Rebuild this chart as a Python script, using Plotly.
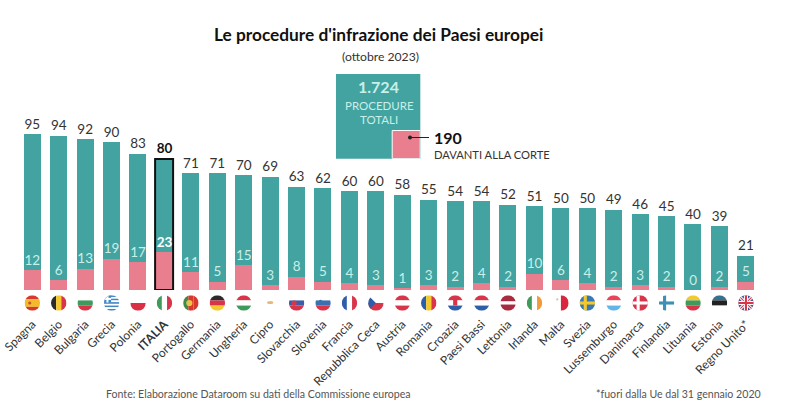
import base64
import math
import plotly.graph_objects as go

countries = ["Spagna", "Belgio", "Bulgaria", "Grecia", "Polonia", "ITALIA", "Portogallo", "Germania", "Ungheria", "Cipro",
             "Slovacchia", "Slovenia", "Francia", "Repubblica Ceca", "Austria", "Romania", "Croazia", "Paesi Bassi",
             "Lettonia", "Irlanda", "Malta", "Svezia", "Lussemburgo", "Danimarca", "Finlandia", "Lituania", "Estonia",
             "Regno Unito*"]
totals = [95, 94, 92, 90, 83, 80, 71, 71, 70, 69, 63, 62, 60, 60, 58, 55, 54, 54, 52, 51, 50, 50, 49, 46, 45, 40, 39, 21]
court = [12, 6, 13, 19, 17, 23, 11, 5, 15, 3, 8, 5, 4, 3, 1, 3, 2, 4, 2, 10, 6, 4, 2, 3, 2, 0, 2, 5]
grand_total = 1724
grand_court = 190
highlight = "ITALIA"

TEAL = "#42a3a0"
PINK = "#e97f8e"
INK = "#333333"
PALE = "#c9efe9"
FONT = "Lato, 'Open Sans', sans-serif"
W, H = 800, 419
X0, STEP = 19.1, 26.43
BASE, PX_PER_UNIT = 290.0, 1.642
LABEL_LIFT = 2


def h(*c, w=None):
    w = w or [1] * len(c)
    t, y, s = sum(w), 0, ""
    for col, k in zip(c, w):
        s += f'<rect x="0" y="{y}" width="30" height="{30 * k / t}" fill="{col}"/>'
        y += 30 * k / t
    return s


def v(*c):
    n = len(c)
    return "".join(f'<rect x="{30 * i / n}" y="0" width="{30 / n}" height="30" fill="{col}"/>' for i, col in enumerate(c))


def nordic(bg, cross):
    return (f'<rect width="30" height="30" fill="{bg}"/><rect x="8" width="6" height="30" fill="{cross}"/>'
            f'<rect y="12" width="30" height="6" fill="{cross}"/>')


def dot(x, y, r, col):
    return f'<circle cx="{x}" cy="{y}" r="{r}" fill="{col}"/>'


greece = h(*["#3f86c4", "#ffffff"] * 4 + ["#3f86c4"]) + '<rect width="14" height="14" fill="#3f86c4"/><rect x="5" width="4" height="14" fill="#fff"/><rect y="5" width="14" height="4" fill="#fff"/>'
uk = ('<rect width="30" height="30" fill="#3a4f8f"/><path d="M0 0L30 30M30 0L0 30" stroke="#fff" stroke-width="6"/>'
      '<path d="M0 0L30 30M30 0L0 30" stroke="#d8354a" stroke-width="2"/><rect x="11" width="8" height="30" fill="#fff"/>'
      '<rect y="11" width="30" height="8" fill="#fff"/><rect x="13" width="4" height="30" fill="#d8354a"/><rect y="13" width="30" height="4" fill="#d8354a"/>')
flags = {
    "Spagna": h("#d8392b", "#f4b92d", "#d8392b", w=[1, 2, 1]) + dot(10, 15, 3, "#c0562b"),
    "Belgio": v("#2b2b2b", "#f4c92d", "#d8354a"),
    "Bulgaria": h("#ffffff", "#3f9a5b", "#d8354a"),
    "Grecia": greece,
    "Polonia": h("#ffffff", "#db2f45"),
    "ITALIA": v("#3f9a5b", "#ffffff", "#d8354a"),
    "Portogallo": v("#3f8a4b", "#d8392b", "#d8392b") + dot(12, 15, 6, "#e8c34a"),
    "Germania": h("#2b2b2b", "#d8354a", "#f4c92d"),
    "Ungheria": h("#d8354a", "#ffffff", "#3f9a5b"),
    "Cipro": '<rect width="30" height="30" fill="#ffffff"/><ellipse cx="15" cy="14" rx="6" ry="3" fill="#e8b87a"/>',
    "Slovacchia": h("#ffffff", "#3a5fa8", "#d8354a") + dot(10, 15, 5, "#d8354a"),
    "Slovenia": h("#ffffff", "#3a6fb0", "#d8354a") + dot(10, 12, 3.5, "#3a6fb0"),
    "Francia": v("#2f5ea8", "#ffffff", "#d8354a"),
    "Repubblica Ceca": h("#ffffff", "#d8354a") + '<path d="M0 0L15 15L0 30Z" fill="#2f5ea8"/>',
    "Austria": h("#d8354a", "#ffffff", "#d8354a"),
    "Romania": v("#2f5ea8", "#f4c92d", "#d8354a"),
    "Croazia": h("#d8354a", "#ffffff", "#2f5ea8") + '<rect x="11" y="9" width="8" height="11" fill="#d8354a"/>',
    "Paesi Bassi": h("#d8354a", "#ffffff", "#2f5ea8"),
    "Lettonia": h("#a82c3e", "#ffffff", "#a82c3e", w=[2, 1, 2]),
    "Irlanda": v("#3f9a5b", "#ffffff", "#f29a3a"),
    "Malta": v("#ffffff", "#d8263c") + dot(8, 8, 2, "#c0c0c0"),
    "Svezia": nordic("#3a78b5", "#f4c92d"),
    "Lussemburgo": h("#e8455a", "#ffffff", "#62b5e8"),
    "Danimarca": nordic("#d8354a", "#ffffff"),
    "Finlandia": nordic("#ffffff", "#3f8fb5"),
    "Lituania": h("#f4c92d", "#3f9a5b", "#d8354a"),
    "Estonia": h("#3a6f8f", "#222222", "#ffffff"),
    "Regno Unito*": uk,
}


def flag_uri(body):
    svg = (f'<svg xmlns="http://www.w3.org/2000/svg" width="30" height="30" viewBox="0 0 30 30">'
           f'<clipPath id="c"><circle cx="15" cy="15" r="15"/></clipPath><g clip-path="url(#c)">{body}</g></svg>')
    return "data:image/svg+xml;base64," + base64.b64encode(svg.encode()).decode()


positions = list(range(len(countries)))
is_hi = [c == highlight for c in countries]


def bold(values):
    return [f"<b>{val}</b>" if hi else str(val) for val, hi in zip(values, is_hi)]


fig = go.Figure()
fig.add_bar(x=positions, y=totals, marker=dict(color=TEAL, line_width=0), width=0.645, hoverinfo="skip")
fig.add_bar(x=positions, y=court, marker=dict(color=PINK, line_width=0), width=0.645, hoverinfo="skip")
hi_x = [p for p, f in zip(positions, is_hi) if f]
hi_y = [t for t, f in zip(totals, is_hi) if f]
fig.add_bar(x=hi_x, y=hi_y, marker=dict(color="rgba(0,0,0,0)", line=dict(color="#111111", width=2)), width=0.68, hoverinfo="skip")
fig.add_scatter(x=positions, y=totals, yaxis="y3", mode="text", text=bold(totals), textposition="top center",
                textfont=dict(family=FONT, size=13.5, color=["#111111" if f else INK for f in is_hi]), hoverinfo="skip")
fig.add_scatter(x=positions, y=court, yaxis="y3", mode="text", text=bold(court), textposition="top center",
                textfont=dict(family=FONT, size=13.5, color=["#ffffff" if f else PALE for f in is_hi]), hoverinfo="skip")

# proportional squares
side_t, side_c = math.sqrt(grand_total), math.sqrt(grand_court)
fig.add_bar(x=[side_t / 2], y=[side_t], width=[side_t], marker=dict(color=TEAL, line_width=0), xaxis="x2", yaxis="y2", hoverinfo="skip")
fig.add_bar(x=[side_t - side_c / 2], y=[side_c], width=[side_c], marker=dict(color=PINK, line=dict(color="#ffffff", width=1)), xaxis="x2", yaxis="y2", hoverinfo="skip")


def ann(x, y, text, size, color=INK, anchor="center", angle=0):
    fig.add_annotation(x=x / W, y=1 - y / H, xref="paper", yref="paper", text=text, showarrow=False, xanchor=anchor,
                       yanchor="middle", textangle=angle, font=dict(family=FONT, size=size, color=color))


ann(378, 35, "<b>Le procedure d'infrazione dei Paesi europei</b>", 17.3, "#111111")
ann(380, 56.5, "(ottobre 2023)", 12.2)
ann(378, 87, f"<b>{grand_total // 1000}.{grand_total % 1000}</b>", 16, PALE)
ann(379, 105, "PROCEDURE", 11.5, PALE)
ann(379, 119, "TOTALI", 11.5, PALE)
ann(432, 137, f"<b>{grand_court}</b>", 16, "#111111", "left")
ann(432, 154, "DAVANTI ALLA CORTE", 11.2, INK, "left")
ann(104, 394, "Fonte: Elaborazione Dataroom su dati della Commissione europea", 10.6, "#555555", "left")
ann(763, 394, "*fuori dalla Ue dal 31 gennaio 2020", 10.6, "#555555", "right")

shapes = [
    dict(type="line", xref="paper", yref="paper", x0=410 / W, x1=429 / W, y0=1 - 137.5 / H, y1=1 - 137.5 / H, line=dict(color="#222222", width=1)),
    dict(type="circle", xref="paper", yref="paper", x0=408 / W, x1=412 / W, y0=1 - 139.5 / H, y1=1 - 135.5 / H, fillcolor="#222222", line_width=0),
]

images = [dict(source=flag_uri(flags[c]), xref="paper", yref="paper", x=(X0 + STEP * (p + 0.5)) / W, y=1 - 303 / H,
               sizex=15.5 / W, sizey=15.5 / H, xanchor="center", yanchor="middle", layer="above", sizing="stretch")
          for p, c in zip(positions, countries)]

r0 = -LABEL_LIFT / PX_PER_UNIT
fig.update_layout(
    width=W, height=H, margin=dict(l=0, r=0, t=0, b=0), paper_bgcolor="white", plot_bgcolor="white",
    barmode="overlay", showlegend=False, shapes=shapes, images=images, bargap=0,
    xaxis=dict(domain=[X0 / W, (X0 + STEP * len(countries)) / W], range=[-0.5, len(countries) - 0.5], tickmode="array",
               tickvals=positions, ticktext=[f"<b>{c}</b>" if f else c for c, f in zip(countries, is_hi)],
               tickangle=-45, ticks="", showgrid=False, zeroline=False, showline=False, ticklabelstandoff=24,
               tickfont=dict(family=FONT, size=12, color=INK), automargin=False),
    yaxis=dict(domain=[1 - BASE / H, 1], range=[0, BASE / PX_PER_UNIT], visible=False, showgrid=False, zeroline=False),
    yaxis3=dict(domain=[1 - BASE / H, 1], range=[r0, r0 + BASE / PX_PER_UNIT], visible=False, overlaying="y"),
    xaxis2=dict(domain=[335.7 / W, 420.3 / W], range=[0, side_t], visible=False, anchor="y2"),
    yaxis2=dict(domain=[1 - 158.7 / H, 1 - 74 / H], range=[0, side_t], visible=False, anchor="x2"),
)
fig.write_html("out.html", config={"displayModeBar": False}, post_script="document.body.style.margin='0';")
